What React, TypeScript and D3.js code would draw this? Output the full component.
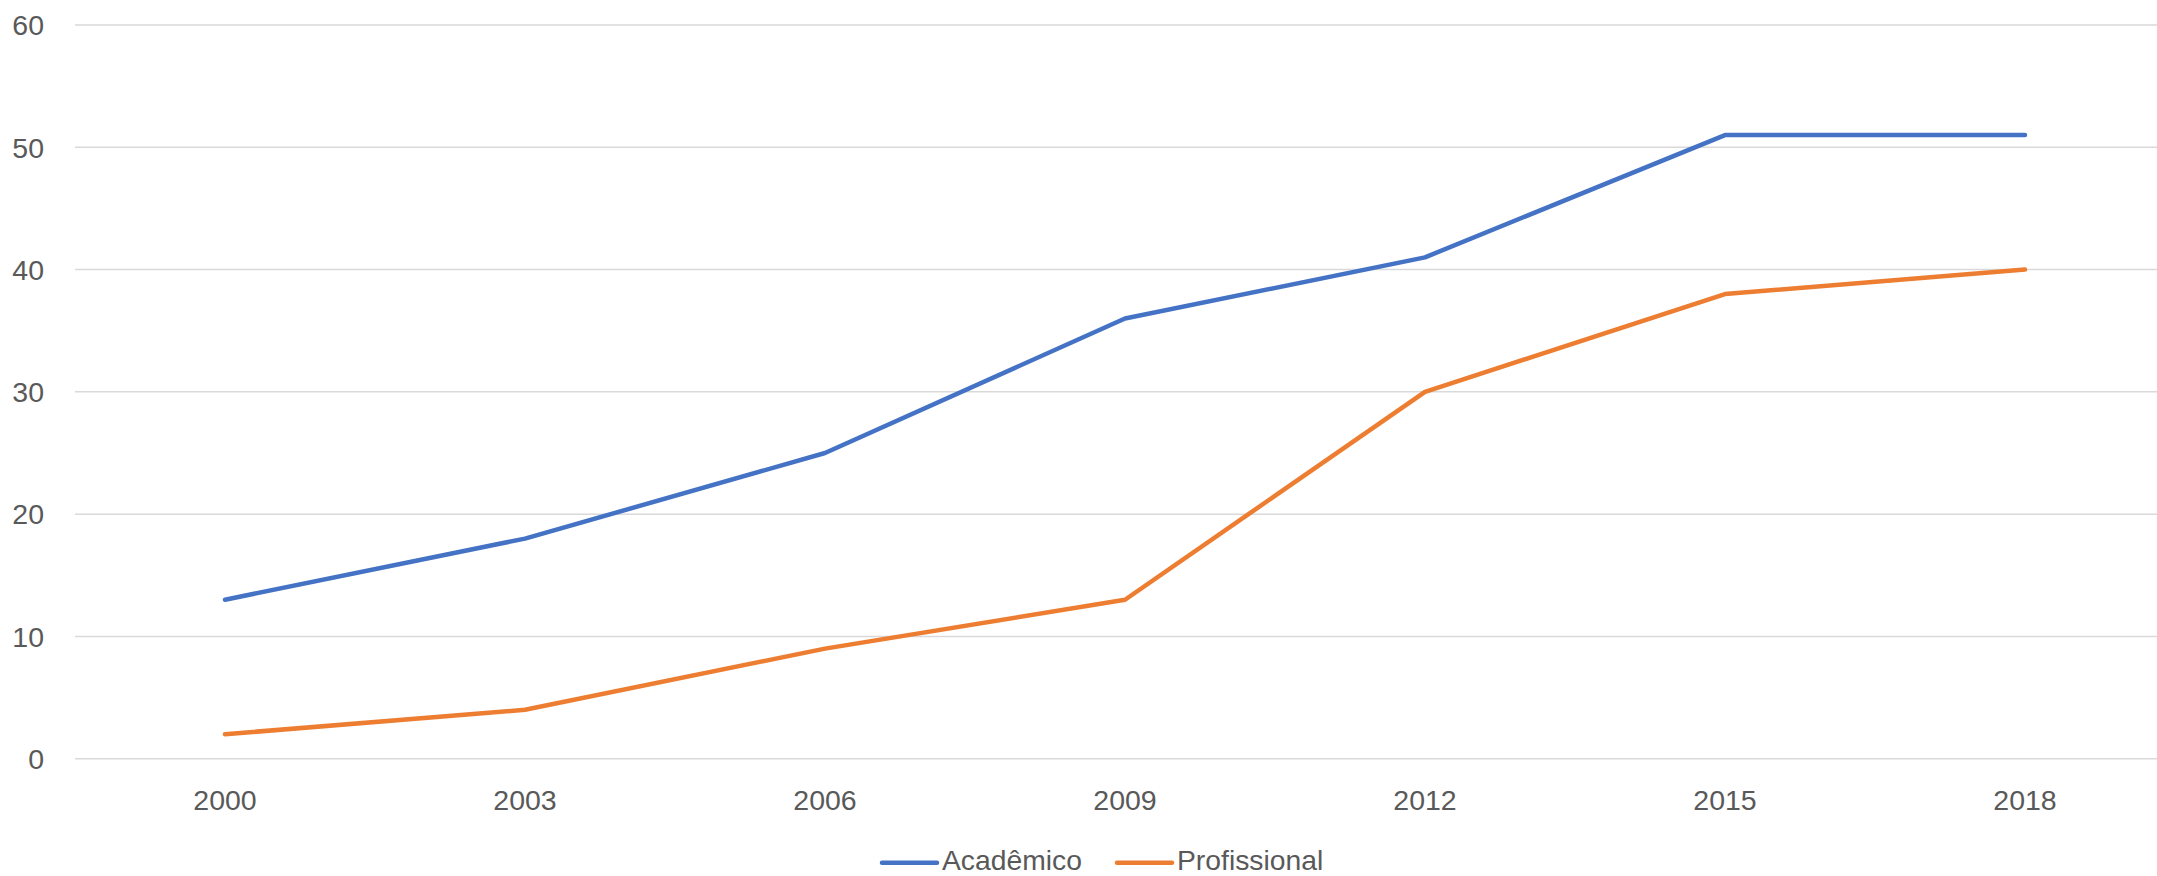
import React from "react";
import * as d3 from "d3";

const categories = ["2000", "2003", "2006", "2009", "2012", "2015", "2018"];
const academico = [13, 18, 25, 36, 41, 51, 51];
const profissional = [2, 4, 9, 13, 30, 38, 40];
const yTicks = [0, 10, 20, 30, 40, 50, 60];
const seriesNames = ["Acadêmico", "Profissional"];
const seriesColors = ["#4472C4", "#ED7D31"];

const W = 2157;
const H = 876;
const FONT = "'Liberation Sans', Arial, sans-serif";

export default function App() {
  const x = d3.scaleBand<string>().domain(categories).range([75, 2175]);
  const y = d3.scaleLinear().domain([0, 60]).range([758.7, 25]);
  const cx = (c: string) => (x(c) as number) + x.bandwidth() / 2;
  const line = d3
    .line<number>()
    .x((_, i) => cx(categories[i]))
    .y((d) => y(d));
  const series = [academico, profissional];
  const legend = [
    { lx1: 882, lx2: 937, tx: 942 },
    { lx1: 1117, lx2: 1172, tx: 1177 },
  ];
  return (
    <svg
      width={W}
      height={H}
      style={{ position: "absolute", left: 0, top: 0, background: "#fff" }}
      fontFamily={FONT}
    >
      <rect x={0} y={0} width={W} height={H} fill="#fff" />
      {yTicks.map((t) => (
        <g key={t}>
          <line x1={75} x2={W} y1={y(t)} y2={y(t)} stroke="#D9D9D9" strokeWidth={1.5} />
          <text x={44} y={y(t)} dy="0.36em" textAnchor="end" fontSize={28.5} fill="#595959">
            {t}
          </text>
        </g>
      ))}
      {categories.map((c) => (
        <text key={c} x={cx(c)} y={810} textAnchor="middle" fontSize={28.5} fill="#595959">
          {c}
        </text>
      ))}
      {series.map((s, i) => (
        <path
          key={i}
          d={line(s) as string}
          fill="none"
          stroke={seriesColors[i]}
          strokeWidth={4.5}
          strokeLinecap="round"
          strokeLinejoin="round"
        />
      ))}
      {legend.map((l, i) => (
        <g key={i}>
          <line x1={l.lx1} x2={l.lx2} y1={862.7} y2={862.7} stroke={seriesColors[i]} strokeWidth={4.5} strokeLinecap="round" />
          <text x={l.tx} y={870} fontSize={28.3} fill="#595959">
            {seriesNames[i]}
          </text>
        </g>
      ))}
    </svg>
  );
}
